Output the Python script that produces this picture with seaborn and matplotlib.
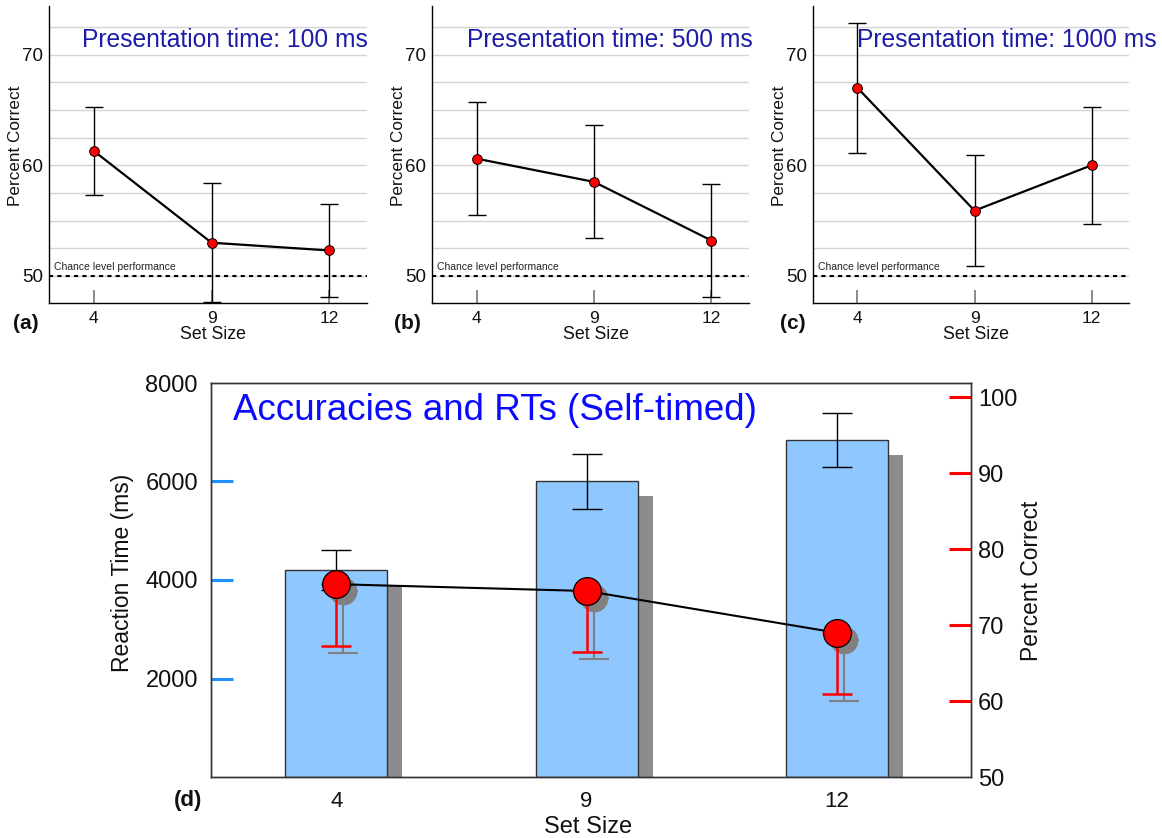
import matplotlib
matplotlib.use("Agg")
import matplotlib.pyplot as plt
import seaborn as sns
import numpy as np
from matplotlib.transforms import ScaledTranslation

# ---------------- data ----------------
set_sizes = ["4", "9", "12"]

acc_100 = [61.3, 53.0, 52.3]
err_100 = [4.0, 5.4, 4.2]
acc_500 = [60.6, 58.5, 53.2]
err_500 = [5.1, 5.1, 5.1]
acc_1000 = [67.0, 55.9, 60.0]
err_1000 = [5.9, 5.0, 5.3]

panel_titles = ["Presentation time: 100 ms", "Presentation time: 500 ms",
                "Presentation time: 1000 ms"]
panel_tags = ["(a)", "(b)", "(c)"]

rt_mean = [4200, 6000, 6850]
rt_err = [400, 550, 550]
acc_self = [75.4, 74.5, 69.0]
acc_self_err = [8.1, 8.1, 8.1]
left_ticks = [2000, 4000, 6000, 8000]
right_ticks = [50, 60, 70, 80, 90, 100]

# ---------------- style ----------------
sns.set_theme(style="white")
plt.rcParams["font.family"] = ["Liberation Sans", "DejaVu Sans"]

W, H = 1162, 838
fig = plt.figure(figsize=(W / 100, H / 100), dpi=100)


def px_axes(left, top, right, bottom):
    return fig.add_axes([left / W, 1 - bottom / H, (right - left) / W, (bottom - top) / H])


def offset(ax, dx_px, dy_px):
    return ax.transData + ScaledTranslation(dx_px / 100, dy_px / 100, fig.dpi_scale_trans)


# ---------------- top panels ----------------
boxes = [(49, 6, 367, 303), (432, 6, 749, 303), (813, 6, 1129, 303)]
title_x = [0.104, 0.11, 0.139]
tag_x = [13, 394, 780]
accs = [acc_100, acc_500, acc_1000]
errs = [err_100, err_500, err_1000]

for i in range(3):
    ax = px_axes(*boxes[i])
    ax.errorbar(np.arange(3), accs[i], yerr=errs[i], fmt="none", ecolor="black",
                elinewidth=1, capsize=6.5, capthick=1, zorder=3)
    n0 = len(ax.lines)
    sns.pointplot(x=set_sizes, y=accs[i], order=set_sizes, color="black", markers="o",
                  linewidth=1.6, markersize=7, errorbar=None, ax=ax)
    for ln in ax.lines[n0:]:
        ln.set_markerfacecolor("red")
        ln.set_markeredgecolor("black")
        ln.set_markeredgewidth(0.7)
        ln.set_zorder(4)
    ax.axhline(50, color="black", lw=1.5, ls=(0, (2, 2)), zorder=2)
    ax.text(0.016, 50.35, "Chance level performance", fontsize=7.5, va="bottom",
            ha="left", transform=ax.get_yaxis_transform(), color="#222")
    ax.set_xlim(-0.38, 2.32)
    ax.set_ylim(47.55, 74.4)
    ax.set_yticks([50, 60, 70])
    ax.set_yticks(np.arange(52.5, 75, 2.5), minor=True)
    ax.yaxis.grid(True, which="both", color="#d4d4d4", lw=1)
    ax.xaxis.grid(False)
    ax.set_axisbelow(True)
    ax.tick_params(axis="y", which="both", length=0, labelsize=13.5, pad=4, labelcolor="#111")
    ax.tick_params(axis="x", which="major", bottom=True, direction="in", length=9.5,
                   color="#777", width=1.2, labelsize=12.5, pad=6, labelcolor="#111")
    for s in ["top", "right"]:
        ax.spines[s].set_visible(False)
    for s in ["left", "bottom"]:
        ax.spines[s].set_color("black")
        ax.spines[s].set_linewidth(1)
    ax.set_ylabel("Percent Correct", fontsize=12.3, color="#111")
    ax.yaxis.set_label_coords(-0.082, 0.53)
    ax.set_xlabel("Set Size", fontsize=12.8, color="#111")
    ax.xaxis.set_label_coords(0.516, -0.077)
    ax.text(title_x[i], 0.886, panel_titles[i], transform=ax.transAxes,
            color="#1c1ca8", fontsize=17.7, va="center", ha="left")
    fig.text(tag_x[i] / W, 1 - 323 / H, panel_tags[i], fontsize=15, fontweight="bold",
             va="center", ha="left", color="#111")

# ---------------- bottom panel ----------------
ax = px_axes(211, 383, 971, 777)

# shadow bars
sns.barplot(x=set_sizes, y=rt_mean, order=set_sizes, color="#8c8c8c", width=0.407,
            errorbar=None, ax=ax, saturation=1, linewidth=0)
n_shadow = len(ax.patches)
for p in ax.patches:
    p.set_transform(offset(ax, 15, -15))
    p.set_zorder(1)
sns.barplot(x=set_sizes, y=rt_mean, order=set_sizes, color="#8fc7ff", width=0.407,
            errorbar=None, ax=ax, saturation=1, edgecolor="#333333", linewidth=1)
for p in ax.patches[n_shadow:]:
    p.set_zorder(2)
ax.errorbar(np.arange(3), rt_mean, yerr=rt_err, fmt="none", ecolor="black",
            elinewidth=1, capsize=10.5, capthick=1, zorder=3)
ax.set_ylim(0, 8000)
ax.yaxis.remove_overlapping_locs = False
ax.set_yticks(left_ticks)
ax.set_yticks(left_ticks[:-1], minor=True)
ax.tick_params(axis="y", which="major", left=True, length=0, labelsize=17, pad=9.4,
               labelcolor="#111")
ax.tick_params(axis="y", which="minor", left=True, direction="in", length=16, width=2.2,
               color="#1e90ff")
ax.tick_params(axis="x", length=0, labelsize=16, pad=10, labelcolor="#111")
for s in ax.spines.values():
    s.set_color("#333")
    s.set_linewidth(1)
ax.set_ylabel("Reaction Time (ms)", fontsize=16.5, color="#111")
ax.yaxis.set_label_coords(-0.1015, 0.518)
ax.set_xlabel("Set Size", fontsize=17, color="#111")
ax.xaxis.set_label_coords(0.496, -0.099)
ax.text(0.029, 0.931, "Accuracies and RTs (Self-timed)", transform=ax.transAxes,
        color="#0a0aff", fontsize=26.5, va="center", ha="left")

ax2 = ax.twinx()
lower_only = [acc_self_err, [0, 0, 0]]
# shadow of the accuracy points
eb_sh = ax2.errorbar(np.arange(3), acc_self, yerr=lower_only, fmt="none",
                     ecolor="#808080", elinewidth=1.5, capsize=10.8, capthick=1.5, zorder=1)
for art in list(eb_sh.lines[1]) + list(eb_sh.lines[2]):
    art.set_transform(offset(ax2, 7, -7))
n0 = len(ax2.lines)
sns.pointplot(x=set_sizes, y=acc_self, order=set_sizes, color="#808080", markers="o",
              linestyles="none", markersize=20, errorbar=None, ax=ax2)
for ln in ax2.lines[n0:]:
    ln.set_markeredgewidth(0)
    ln.set_zorder(2)
    ln.set_transform(offset(ax2, 7, -7))
ax2.errorbar(np.arange(3), acc_self, yerr=lower_only, fmt="none", ecolor="red",
             elinewidth=1.8, capsize=10.8, capthick=1.8, zorder=3)
n1 = len(ax2.lines)
sns.pointplot(x=set_sizes, y=acc_self, order=set_sizes, color="black", markers="o",
              linewidth=1.5, markersize=20, errorbar=None, ax=ax2)
for ln in ax2.lines[n1:]:
    ln.set_markerfacecolor("red")
    ln.set_markeredgecolor("black")
    ln.set_markeredgewidth(0.9)
    ln.set_zorder(4)
ax2.set_ylim(50, 101.9)
ax2.yaxis.remove_overlapping_locs = False
ax2.set_yticks(right_ticks)
ax2.set_yticks(right_ticks[1:], minor=True)
ax2.tick_params(axis="y", which="major", right=True, length=0, labelsize=17, pad=5,
                labelcolor="#111")
ax2.tick_params(axis="y", which="minor", right=True, direction="in", length=16,
                width=2.2, color="red")
ax2.set_ylabel("Percent Correct", fontsize=16.5, color="#111", rotation=90)
ax2.yaxis.set_label_coords(1.0645, 0.498)
ax2.grid(False)
for s in ax2.spines.values():
    s.set_color("#333")
    s.set_linewidth(1)
ax.set_xlim(-0.5, 2.535)
ax.set_xticks([0, 1, 2])
ax.set_xticklabels(set_sizes)

fig.text(174 / W, 1 - 800 / H, "(d)", fontsize=16, fontweight="bold", va="center",
         ha="left", color="#111")

fig.savefig("out.png", dpi=100, facecolor="white")
